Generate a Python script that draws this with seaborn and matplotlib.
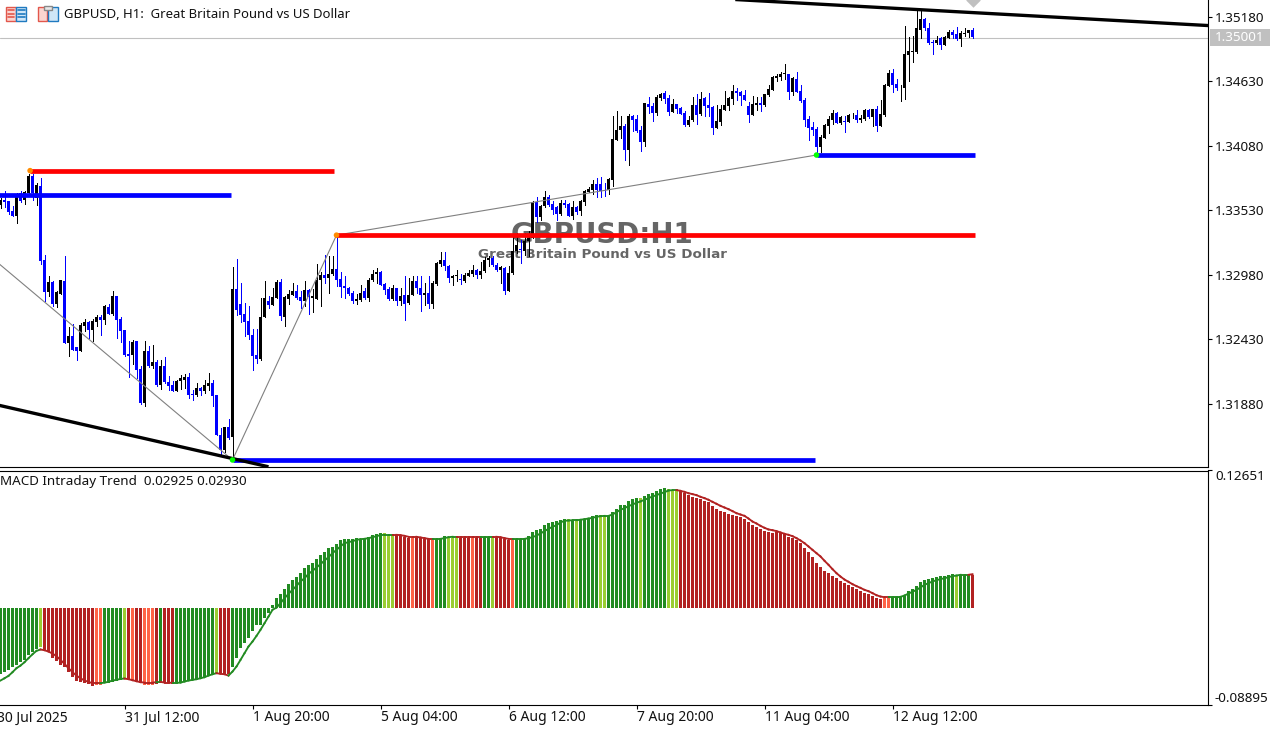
import numpy as np
import pandas as pd
import matplotlib
matplotlib.use('Agg')
import matplotlib.pyplot as plt
from matplotlib.patches import Rectangle
import seaborn as sns

# GBPUSD H1 candles, quoted in 1e-5 above 1.30000
body_top = [3619,3613,3604,3519,3638,3675,3684,3823,3823,3741,
3738,3107,2919,2919,2828,2931,2928,2459,2459,2365,
2552,2572,2575,2587,2615,2615,2709,2706,2794,2794,
2604,2510,2305,2407,2410,2177,2331,2331,2237,2237,
2203,2203,2063,2041,2075,2095,2109,2109,1964,2015,
2015,2041,2058,2058,1955,1614,1682,1682,2859,2859,
2732,2646,2587,2467,2297,2621,2783,2757,2791,2919,
2919,2786,2817,2842,2842,2791,2851,2851,2794,2936,
2979,2979,2987,3030,3030,2942,2885,2865,2823,2774,
2823,2840,2936,2987,3004,3004,2899,2854,2868,2868,
2800,2803,2808,2928,2928,2868,2823,2825,2908,3081,
3104,3104,3056,2970,2976,2945,2979,2996,3019,3019,
3013,3107,3121,3121,3064,3041,3039,2996,3181,3235,
3198,3269,3294,3596,3596,3567,3644,3644,3584,3553,
3590,3590,3584,3556,3556,3610,3692,3712,3755,3755,
3755,3698,3798,4139,4216,4250,4250,4330,4330,4310,
4216,4446,4438,4421,4498,4523,4526,4486,4438,4438,
4404,4361,4302,4429,4429,4481,4483,4429,4412,4293,
4395,4429,4489,4549,4549,4540,4515,4421,4438,4446,
4446,4523,4566,4668,4677,4694,4694,4694,4660,4651,
4549,4472,4310,4242,4225,4157,4259,4310,4361,4361,
4327,4293,4344,4344,4344,4319,4387,4387,4395,4395,
4353,4600,4702,4702,4609,4583,4864,4890,4890,5078,
5163,5163,5086,4967,4984,5001,5009,5052,5052,5035,
5043,5043,5061,5061]
body_bottom = [3576,3596,3510,3482,3482,3604,3613,3675,3675,3633,
3098,2828,2828,2726,2732,2817,2393,2393,2334,2331,
2331,2544,2510,2510,2578,2595,2595,2646,2646,2595,
2501,2297,2288,2291,2169,1884,1884,2203,2203,2041,
2041,2061,2032,1989,1989,2069,2083,1955,1953,1955,
1987,1987,2032,1947,1609,1486,1486,1586,1591,2680,
2638,2578,2461,2288,2260,2260,2615,2723,2723,2783,
2623,2618,2774,2808,2780,2757,2757,2786,2777,2774,
2931,2953,2953,2982,2936,2874,2862,2817,2757,2757,
2766,2780,2783,2931,2982,2894,2845,2774,2774,2751,
2751,2732,2734,2803,2862,2808,2808,2732,2732,2902,
3073,3050,2953,2953,2965,2931,2928,2970,2987,2979,
2979,3007,3101,3058,3016,3016,2842,2842,2993,3178,
3186,3184,3263,3292,3468,3468,3562,3576,3533,3499,
3499,3576,3482,3482,3516,3525,3601,3687,3704,3698,
3692,3690,3698,3790,4131,4211,4040,4040,4302,4208,
4108,4108,4412,4358,4361,4486,4481,4370,4370,4395,
4353,4259,4259,4296,4344,4353,4421,4404,4233,4233,
4284,4387,4421,4481,4532,4506,4472,4344,4344,4429,
4429,4429,4515,4557,4660,4668,4691,4540,4540,4540,
4464,4302,4233,4216,4071,4071,4148,4250,4302,4276,
4276,4284,4284,4338,4302,4302,4310,4327,4327,4250,
4250,4344,4591,4600,4574,4577,4574,4856,4881,4881,
5069,5078,4958,4958,4958,4941,4941,5001,5026,4992,
4992,5035,5043,5007]
wick_high = [3633,3695,3604,3562,3675,3695,3695,3840,3840,3761,
3803,3149,2965,2928,2837,2936,3141,2530,2558,2365,
2567,2604,2587,2601,2632,2638,2723,2732,2837,2800,
2618,2510,2410,2424,2410,2203,2410,2368,2382,2248,
2254,2280,2112,2069,2083,2126,2134,2140,1998,2055,
2021,2083,2140,2083,1955,1671,1682,1748,3041,3115,
2908,2737,2709,2515,2515,2780,2928,2794,2865,2931,
2942,2794,2851,2908,2894,2842,2928,2857,2857,3070,
3002,3147,3135,3135,3317,3004,2965,2874,2837,2817,
2894,2865,2950,3021,3036,3007,2908,2874,2894,2868,
2865,2965,2950,2965,2965,2965,2908,2965,2922,3084,
3175,3169,3064,2979,3021,2987,2993,3016,3064,3027,
3084,3130,3141,3135,3078,3050,3044,3050,3306,3334,
3277,3334,3348,3604,3638,3576,3695,3661,3604,3562,
3619,3619,3590,3604,3562,3619,3698,3727,3783,3803,
3812,3761,3803,4336,4378,4330,4265,4353,4344,4344,
4250,4446,4492,4444,4515,4529,4543,4515,4478,4438,
4410,4373,4330,4495,4523,4537,4492,4529,4421,4429,
4429,4549,4495,4600,4572,4543,4552,4449,4506,4495,
4495,4523,4600,4677,4694,4705,4779,4694,4665,4705,
4600,4483,4336,4279,4236,4174,4267,4330,4381,4370,
4336,4336,4353,4358,4387,4344,4392,4392,4395,4421,
4472,4609,4728,4736,4648,4600,5103,5009,5018,5240,
5223,5171,5129,4984,5012,5007,5018,5069,5069,5092,
5055,5078,5069,5078]
wick_low = [3547,3556,3499,3476,3417,3596,3584,3675,3619,3576,
3073,2751,2794,2709,2700,2817,2393,2282,2334,2248,
2325,2496,2436,2416,2538,2467,2561,2646,2632,2439,
2402,2288,2103,2220,2098,1879,1862,2191,2180,2026,
2004,2055,1998,1984,1989,2004,2012,1927,1907,1947,
1955,1970,1992,1862,1609,1435,1464,1580,1387,2638,
2578,2453,2430,2163,2226,2254,2615,2695,2723,2783,
2595,2544,2732,2808,2771,2695,2709,2646,2658,2774,
2709,2908,2823,2979,2879,2786,2777,2808,2737,2726,
2754,2771,2757,2922,2908,2888,2811,2766,2760,2717,
2717,2595,2732,2803,2823,2666,2723,2692,2692,2894,
3050,3016,2913,2894,2922,2896,2919,2965,2970,2953,
2953,2999,3050,3050,3007,2908,2817,2837,2987,3164,
3078,3149,3135,3292,3425,3448,3556,3562,3499,3442,
3491,3556,3476,3456,3499,3485,3576,3681,3667,3638,
3641,3653,3670,3739,4125,4145,3960,3912,4202,4193,
4037,4074,4358,4287,4344,4466,4444,4344,4370,4358,
4353,4250,4245,4287,4267,4344,4330,4330,4182,4230,
4259,4381,4387,4438,4472,4429,4472,4279,4344,4387,
4373,4421,4506,4557,4628,4643,4651,4481,4515,4535,
4455,4250,4125,4174,4017,4023,4148,4188,4267,4273,
4267,4199,4284,4316,4284,4284,4302,4319,4245,4208,
4245,4336,4591,4535,4557,4464,4481,4634,4790,4870,
5001,5069,4947,4864,4950,4907,4941,4998,4998,4978,
4927,5018,5009,5001]
# u = up candle (black), d = down candle (blue)
candle_dir = ("uddduduudu" "dduduududd" "uuduududud" "ddduddudud"
              "uddduuuddu" "duudddudud" "ddddduuduu" "duuudduduu"
              "uduudddddu" "uduuudddud" "uduudduduu" "udduuduuud"
              "uuudduduuu" "duuuduuddd" "udduduuuud" "dduuuududd"
              "dudduuddud" "dduududddu" "uuuuddddu" "u"
              "duuuuuudud" "ddddduuuud" "uduuduudud" "uuudduuuuu"
              "uddduduudd" "uuud")

macd_hist = [-.0637,-.0615,-.0599,-.0573,-.0550,-.0527,-.0502,-.0453,-.0421,-.0398,
-.0372,-.0405,-.0427,-.0485,-.0511,-.0550,-.0573,-.0621,-.0663,-.0705,
-.0718,-.0728,-.0738,-.0751,-.0744,-.0744,-.0728,-.0722,-.0712,-.0702,
-.0696,-.0680,-.0689,-.0696,-.0712,-.0728,-.0744,-.0744,-.0744,-.0735,
-.0728,-.0728,-.0728,-.0735,-.0722,-.0722,-.0715,-.0702,-.0696,-.0696,
-.0689,-.0670,-.0657,-.0637,-.0625,-.0631,-.0637,-.0637,-.0566,-.0485,
-.0388,-.0333,-.0285,-.0220,-.0162,-.0162,-.0091,-.0042,.0032,.0097,
.0139,.0188,.0236,.0275,.0307,.0346,.0388,.0421,.0443,.0476,
.0518,.0550,.0582,.0592,.0621,.0660,.0670,.0670,.0670,.0680,
.0676,.0676,.0689,.0709,.0718,.0728,.0728,.0709,.0709,.0712,
.0709,.0693,.0686,.0686,.0686,.0683,.0676,.0670,.0663,.0670,
.0686,.0696,.0686,.0686,.0686,.0686,.0686,.0686,.0686,.0686,
.0686,.0693,.0693,.0686,.0686,.0683,.0670,.0663,.0663,.0670,
.0670,.0686,.0696,.0735,.0757,.0773,.0806,.0825,.0835,.0845,
.0854,.0864,.0864,.0858,.0848,.0858,.0870,.0880,.0890,.0903,
.0903,.0896,.0896,.0929,.0961,.1000,.1000,.1039,.1058,.1068,
.1068,.1087,.1107,.1116,.1136,.1155,.1165,.1155,.1146,.1146,
.1139,.1116,.1097,.1081,.1068,.1058,.1039,.1026,.0993,.0961,
.0945,.0932,.0913,.0903,.0893,.0883,.0867,.0838,.0806,.0786,
.0767,.0748,.0738,.0731,.0738,.0728,.0718,.0689,.0680,.0660,
.0631,.0582,.0544,.0495,.0437,.0398,.0359,.0340,.0311,.0291,
.0262,.0243,.0223,.0204,.0184,.0165,.0146,.0136,.0116,.0097,
.0087,.0097,.0097,.0104,.0104,.0113,.0126,.0165,.0184,.0214,
.0252,.0272,.0282,.0291,.0301,.0311,.0311,.0320,.0330,.0320,
.0320,.0320,.0320,.0320]
macd_signal = [-.0702,-.0680,-.0657,-.0621,-.0582,-.0557,-.0524,-.0485,-.0447,-.0414,
-.0401,-.0408,-.0421,-.0440,-.0466,-.0502,-.0540,-.0582,-.0621,-.0654,
-.0680,-.0702,-.0715,-.0728,-.0728,-.0728,-.0722,-.0715,-.0702,-.0696,
-.0686,-.0683,-.0689,-.0699,-.0709,-.0718,-.0722,-.0722,-.0722,-.0718,
-.0715,-.0722,-.0722,-.0725,-.0725,-.0722,-.0712,-.0702,-.0696,-.0689,
-.0680,-.0670,-.0654,-.0641,-.0631,-.0637,-.0641,-.0654,-.0615,-.0566,
-.0502,-.0437,-.0372,-.0324,-.0269,-.0210,-.0146,-.0081,-.0016,.0006,
.0049,.0097,.0139,.0178,.0217,.0259,.0291,.0333,.0362,.0395,
.0427,.0463,.0495,.0534,.0566,.0600,.0631,.0641,.0650,.0663,
.0670,.0673,.0680,.0689,.0699,.0709,.0712,.0712,.0712,.0712,
.0709,.0702,.0693,.0693,.0693,.0686,.0680,.0673,.0673,.0673,
.0673,.0680,.0689,.0693,.0693,.0693,.0693,.0693,.0693,.0693,
.0693,.0693,.0693,.0693,.0693,.0689,.0680,.0673,.0673,.0673,
.0673,.0673,.0680,.0689,.0705,.0725,.0748,.0770,.0790,.0806,
.0832,.0848,.0851,.0854,.0854,.0858,.0864,.0870,.0877,.0887,
.0893,.0896,.0896,.0909,.0932,.0955,.0971,.0990,.1006,.1023,
.1036,.1052,.1068,.1084,.1097,.1113,.1126,.1142,.1146,.1146,
.1139,.1129,.1116,.1107,.1097,.1081,.1068,.1052,.1032,.1013,
.0993,.0977,.0961,.0942,.0922,.0909,.0896,.0870,.0841,.0822,
.0799,.0780,.0764,.0757,.0748,.0735,.0722,.0712,.0699,.0680,
.0657,.0631,.0599,.0566,.0534,.0502,.0460,.0421,.0379,.0340,
.0307,.0278,.0256,.0233,.0214,.0197,.0178,.0165,.0146,.0126,
.0113,.0107,.0107,.0107,.0107,.0110,.0123,.0142,.0159,.0178,
.0201,.0227,.0243,.0259,.0272,.0282,.0291,.0301,.0311,.0317,
.0324,.0324,.0324,.0330]
# values above were read against a rougher pane scale, this brings them onto the real one
macd_scale = 0.9467
# g = rising, l = rising weak, r = falling, t = falling weak
hist_state = ("g"*10 + "l" + "r"*13 + "tt" + "g"*5 + "l" + "r" + "t" + "rr" + "ttt" + "r" + "g"
              + "rrr" + "g"*10 + "l" + "rrr" + "g"*38 + "lll" + "rrrr" + "t" + "rrrr" + "t"
              + "ggg" + "lll" + "rrr" + "t" + "rr" + "gg" + "l" + "rrrr" + "t" + "g"*13 + "l"
              + "g" + "l" + "g"*5 + "ll" + "g"*8 + "l" + "g"*6 + "lll" + "r"*51 + "tt"
              + "g"*16 + "l" + "ggg" + "r")
state_colors = {"g": "forestgreen", "l": "yellowgreen", "r": "firebrick", "t": "tomato"}

# levels: start bar, end bar, price, colour
levels = [(-1, 57.7, 1.33657, "#0000ff"), (7.4, 83.4, 1.33866, "#ff0000"),
          (83.6, 243.7, 1.33316, "#ff0000"), (58, 203.7, 1.31399, "#0000ff"),
          (204, 243.7, 1.33999, "#0000ff")]
zigzag_bar = [-1, 58, 84, 204]
zigzag_price = [1.33090, 1.31399, 1.33316, 1.33999]
trend_lines = [([-1, 67], [1.31870, 1.31341]), ([183.7, 302], [1.35325, 1.35103])]
pivot_bar = [7.4, 84, 58, 204]
pivot_price = [1.33866, 1.33316, 1.31399, 1.33999]
pivot_color = ["darkorange", "darkorange", "lime", "lime"]
price_ticks = [1.35180, 1.34630, 1.34080, 1.33530, 1.32980, 1.32430, 1.31880]
bid = 1.35001
macd_max, macd_min = 0.12651, -0.08895
time_bars = [-1, 31, 63, 95, 127, 159, 191, 223]
time_labels = ["30 Jul 2025", "31 Jul 12:00", "1 Aug 20:00", "5 Aug 04:00", "6 Aug 12:00",
               "7 Aug 20:00", "11 Aug 04:00", "12 Aug 12:00"]

sns.set_style("white")
plt.rcParams['font.family'] = ['Noto Sans', 'DejaVu Sans']
W, H = 1284, 729
fig = plt.figure(figsize=(W / 100, H / 100), dpi=100, facecolor="white")
ax = fig.add_axes([0, 1 - 467 / H, 1208 / W, 467 / H])
ax2 = fig.add_axes([0, 1 - 705 / H, 1208 / W, (705 - 470.5) / H])

bars = np.arange(244)
top = 1.3 + np.array(body_top) / 1e5
bottom = 1.3 + np.array(body_bottom) / 1e5
high = 1.3 + np.array(wick_high) / 1e5
low = 1.3 + np.array(wick_low) / 1e5
colors = ["black" if c == "u" else "#0000ff" for c in candle_dir]

# watermark sits under the candles
ax.text(150.5, 1.33320, "GBPUSD:H1", fontsize=19.9, fontweight="bold", color="#666666",
        ha="center", va="center", zorder=1, family="DejaVu Sans")
ax.text(150.5, 1.33150, "Great Britain Pound vs US Dollar", fontsize=9.7, fontweight="bold",
        color="#666666", ha="center", va="center", zorder=1, family="DejaVu Sans")

ax.vlines(bars, low, high, colors=colors, linewidth=0.72, zorder=3, antialiased=False)
ax.bar(bars, np.maximum(top - bottom, 0.00006), bottom=bottom, width=0.75, color=colors,
       linewidth=0, zorder=3, antialiased=False)
sns.lineplot(x=zigzag_bar, y=zigzag_price, color="#808080", linewidth=0.8, ax=ax, zorder=3.5,
             errorbar=None, sort=False, estimator=None)
for b0, b1, price, col in levels:
    ax.plot([b0, b1], [price, price], color=col, linewidth=3.4, solid_capstyle="butt", zorder=4)
for xs, ys in trend_lines:
    ax.plot(xs, ys, color="black", linewidth=2.4, solid_capstyle="butt", zorder=5)
ax.scatter(pivot_bar, pivot_price, c=pivot_color, s=16, marker="o", linewidths=0, zorder=6)
ax.axhline(bid, color="#c0c0c0", linewidth=0.8, zorder=2)
ax.scatter([243], [1.35325], marker="D", s=55, color="#c0c0c0", linewidths=0, zorder=6)

ax.set_xlim(-0.125, 301.875)
ax.set_ylim(1.31339, 1.35321)
ax.set_xticks([])
ax.yaxis.tick_right()
ax.set_yticks(price_ticks)
ax.set_yticklabels([f"{t:.5f}" for t in price_ticks])

# MACD pane
hist_vals = np.array(macd_hist) * macd_scale
signal_vals = np.array(macd_signal) * macd_scale
df = pd.DataFrame({"bar": bars, "macd": hist_vals, "state": list(hist_state)})
sns.barplot(data=df, x="bar", y="macd", hue="state", palette=state_colors, native_scale=True,
            dodge=False, width=0.75, errorbar=None, legend=False, linewidth=0, ax=ax2,
            zorder=2, hue_order=["g", "l", "r", "t"], saturation=1)
for p in ax2.patches:
    p.set_antialiased(False)
for i in range(243):
    ax2.plot(bars[i:i + 2], signal_vals[i:i + 2], color=state_colors["r" if hist_state[i + 1] in "rt" else "g"],
             linewidth=1.35, solid_capstyle="projecting", zorder=3)
ax2.set_xlim(-0.125, 301.875)
ax2.set_ylim(macd_min, macd_max)
ax2.set_xlabel("")
ax2.set_ylabel("")
ax2.yaxis.tick_right()
ax2.set_yticks([macd_max, macd_min])
ax2.set_yticklabels([f"{macd_max:.5f}", f"{macd_min:.5f}"])
ax2.set_xticks(time_bars[1:])
ax2.set_xticklabels([])
for b, lab in zip(time_bars, time_labels):
    ax2.text(b + 0.05, -0.055, lab, fontsize=10, ha="left", va="center", clip_on=False,
             color="#111111", transform=ax2.get_xaxis_transform())
ax2.text(0, 0.951, "MACD Intraday Trend  0.02925 0.02930", fontsize=9.7, ha="left", va="center",
         color="#111111", transform=ax2.transAxes)

for a in (ax, ax2):
    for side, spine in a.spines.items():
        spine.set_visible(side != "left")
        spine.set_color("black")
        spine.set_linewidth(0.8)
    a.tick_params(axis="both", length=3, width=0.8, color="black", labelsize=9.7, pad=2,
                  labelcolor="#111111", bottom=a is ax2, left=False, right=True)
    a.set_facecolor("white")
ax.spines["top"].set_visible(False)
labs = ax2.get_yticklabels()
labs[0].set_va("top")
labs[1].set_va("bottom")

# overlay for header icons and the bid price box
ov = fig.add_axes([0, 0, 1, 1], facecolor="none")
ov.set_xlim(0, W)
ov.set_ylim(H, 0)
ov.axis("off")
ov.text(64, 14, "GBPUSD, H1:  Great Britain Pound vs US Dollar", fontsize=9.45, ha="left", va="center", color="#111111")
ov.add_patch(Rectangle((1210, 29), 60, 17, color="#c0c0c0", linewidth=0))
ov.text(1240, 37.5, f"{bid:.5f}", fontsize=9.7, color="white", ha="center", va="center")
ov.add_patch(Rectangle((5.5, 6.5), 10, 14, facecolor="#fbd5d0", edgecolor="#e2574c", linewidth=1))
ov.add_patch(Rectangle((16, 6.5), 10, 14, facecolor="#cfe6f7", edgecolor="#1f7ac0", linewidth=1))
for y in (10, 13.5, 17):
    ov.plot([7.5, 14], [y, y], color="#e2574c", linewidth=1.2)
    ov.plot([17.5, 24.5], [y, y], color="#1f7ac0", linewidth=1.2)
ov.add_patch(Rectangle((37.5, 6.5), 9.5, 14, facecolor="#fbd5d0", edgecolor="#e2574c", linewidth=1))
ov.add_patch(Rectangle((48, 6.5), 9.5, 14, facecolor="#cfe6f7", edgecolor="#1f7ac0", linewidth=1))
ov.add_patch(Rectangle((44, 5.5), 7.5, 4, facecolor="#e8e8e8", edgecolor="#888888", linewidth=1))

fig.savefig("out.png", dpi=100, facecolor="white")
